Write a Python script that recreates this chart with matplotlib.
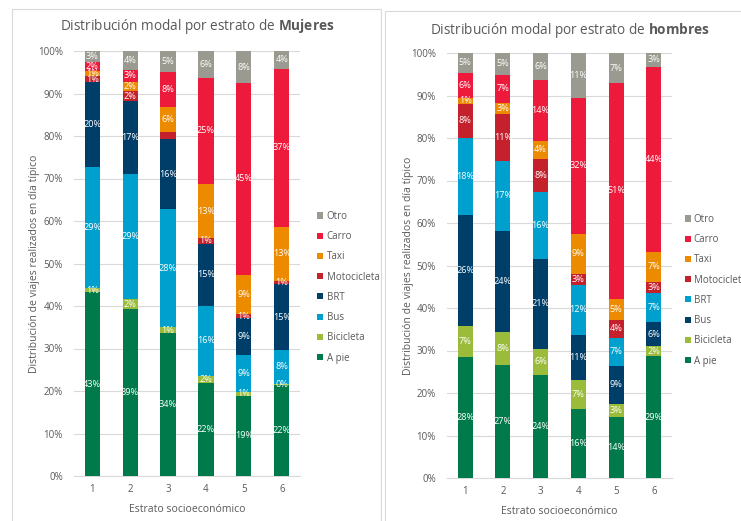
import matplotlib
matplotlib.use('Agg')
import matplotlib.pyplot as plt
from matplotlib.patches import Rectangle
import numpy as np

plt.rcParams['font.family'] = ['Open Sans', 'DejaVu Sans']
plt.rcParams['mathtext.fontset'] = 'custom'
plt.rcParams['mathtext.rm'] = 'Open Sans'
plt.rcParams['mathtext.bf'] = 'Open Sans:bold'

estratos = ['1', '2', '3', '4', '5', '6']
yticks = [0, 10, 20, 30, 40, 50, 60, 70, 80, 90, 100]

# Mujeres, stacked bottom -> top
modos_m = ['A pie', 'Bicicleta', 'Bus', 'BRT', 'Motocicleta', 'Taxi', 'Carro', 'Otro']
m_apie = [43.2, 39.3, 33.6, 22.0, 18.9, 21.5]
m_bici = [1.0, 2.3, 1.4, 1.6, 0.9, 0.2]
m_bus = [28.6, 29.4, 27.8, 16.4, 8.6, 8.0]
m_brt = [20.0, 17.2, 16.4, 14.7, 8.7, 15.4]
m_moto = [1.2, 2.4, 1.7, 1.2, 1.0, 0.9]
m_taxi = [1.3, 2.2, 6.0, 12.8, 9.3, 12.6]
m_carro = [2.0, 2.8, 8.2, 25.0, 45.0, 37.2]
m_otro = [2.7, 4.4, 4.9, 6.3, 7.6, 4.2]

# Hombres, stacked bottom -> top
modos_h = ['A pie', 'Bicicleta', 'Bus', 'BRT', 'Motociclet', 'Taxi', 'Carro', 'Otro']
h_apie = [28.4, 26.6, 24.2, 16.2, 14.4, 28.6]
h_bici = [7.4, 7.8, 6.2, 6.9, 3.0, 2.4]
h_bus = [26.1, 23.7, 21.1, 10.6, 9.0, 5.7]
h_brt = [18.1, 16.6, 15.9, 11.8, 6.6, 6.9]
h_moto = [8.1, 10.9, 7.6, 2.6, 4.2, 2.6]
h_taxi = [1.4, 2.7, 4.4, 9.4, 5.0, 7.0]
h_carro = [5.8, 6.6, 14.2, 31.9, 50.7, 43.6]
h_otro = [4.7, 5.1, 6.4, 10.6, 7.1, 3.2]

verde = '#007A4A'
bici_c = '#9BBB3B'
celeste = '#00A0CE'
navy = '#003E6A'
moto_c = '#C4212D'
taxi_c = '#EC8A00'
carro_c = '#ED1A3B'
otro_c = '#9A9A90'

colores_m = [verde, bici_c, celeste, navy, moto_c, taxi_c, carro_c, otro_c]
colores_h = [verde, bici_c, navy, celeste, moto_c, taxi_c, carro_c, otro_c]

gris_txt = '#595959'
gris_linea = '#D9D9D9'

W, H = 741, 521
fig = plt.figure(figsize=(W / 100, H / 100), dpi=100)

# panel frames
fig.patches.append(Rectangle((12 / W, -0.02), 369 / W, 1 - 9 / H + 0.02,
                             transform=fig.transFigure, fill=False,
                             edgecolor=gris_linea, linewidth=0.8))
fig.patches.append(Rectangle((385 / W, -0.02), 360 / W, 1 - 11 / H + 0.02,
                             transform=fig.transFigure, fill=False,
                             edgecolor=gris_linea, linewidth=0.8))


def panel(rect, series, modos, colores, titulo, ylab_x, leg_xy, title_xy, skip, leg_pad):
    ax = fig.add_axes(rect)
    x = np.arange(1, 7)
    bottom = np.zeros(6)
    handles = []
    for k, (vals, nombre, col) in enumerate(zip(series, modos, colores)):
        vals = np.array(vals)
        b = ax.bar(x, vals, 0.4, bottom=bottom, color=col, label=nombre, zorder=3)
        handles.append(b)
        for i in range(6):
            if (k, i) in skip:
                continue
            ax.text(x[i], bottom[i] + vals[i] / 2, '%.0f%%' % vals[i],
                    ha='center', va='center', color='white', fontsize=6.6, zorder=4)
        bottom += vals
    ax.set_xlim(0.52, 6.48)
    ax.set_ylim(0, 100)
    ax.set_yticks(yticks)
    ax.set_yticklabels(['%d%%' % v for v in yticks])
    ax.set_xticks(x)
    ax.set_xticklabels(estratos)
    ax.grid(axis='y', color=gris_linea, linewidth=0.8, zorder=0)
    for s in ['top', 'right', 'left']:
        ax.spines[s].set_visible(False)
    ax.spines['bottom'].set_color(gris_linea)
    ax.tick_params(length=0, labelsize=7, colors=gris_txt, pad=6)
    ax.tick_params(axis='y', pad=8)
    ax.set_xlabel('Estrato socioeconómico', fontsize=7.5, color=gris_txt, labelpad=6)
    fig.text(ylab_x, rect[1] + rect[3] / 2, 'Distribución de viajes realizados en día típico',
             rotation=90, ha='center', va='center', fontsize=7.5, color=gris_txt)
    fig.text(title_xy[0], title_xy[1], titulo, ha='center', va='center',
             fontsize=9.8, color=gris_txt)
    leg = fig.legend(handles[::-1], modos[::-1], loc='upper left',
                     bbox_to_anchor=leg_xy, frameon=False, fontsize=7,
                     handlelength=0.6, handleheight=0.6, handletextpad=leg_pad,
                     labelspacing=0.95, borderaxespad=0)
    for t in leg.get_texts():
        t.set_color(gris_txt)
    return ax


panel([74 / W, 1 - 476 / H, 226 / W, 425 / H],
      [m_apie, m_bici, m_bus, m_brt, m_moto, m_taxi, m_carro, m_otro],
      modos_m, colores_m,
      r'Distribución modal por estrato de $\bf{Mujeres}$',
      35 / W, (313 / W, 1 - 207 / H), (197 / W, 1 - 27 / H), {(4, 2)}, 0.4)

panel([447 / W, 1 - 478 / H, 225 / W, 425 / H],
      [h_apie, h_bici, h_bus, h_brt, h_moto, h_taxi, h_carro, h_otro],
      modos_h, colores_h,
      r'Distribución modal por estrato de $\bf{hombres}$',
      408 / W, (681 / W, 1 - 210 / H), (570 / W, 1 - 30 / H), set(), 0.3)

fig.savefig('out.png', dpi=100)
